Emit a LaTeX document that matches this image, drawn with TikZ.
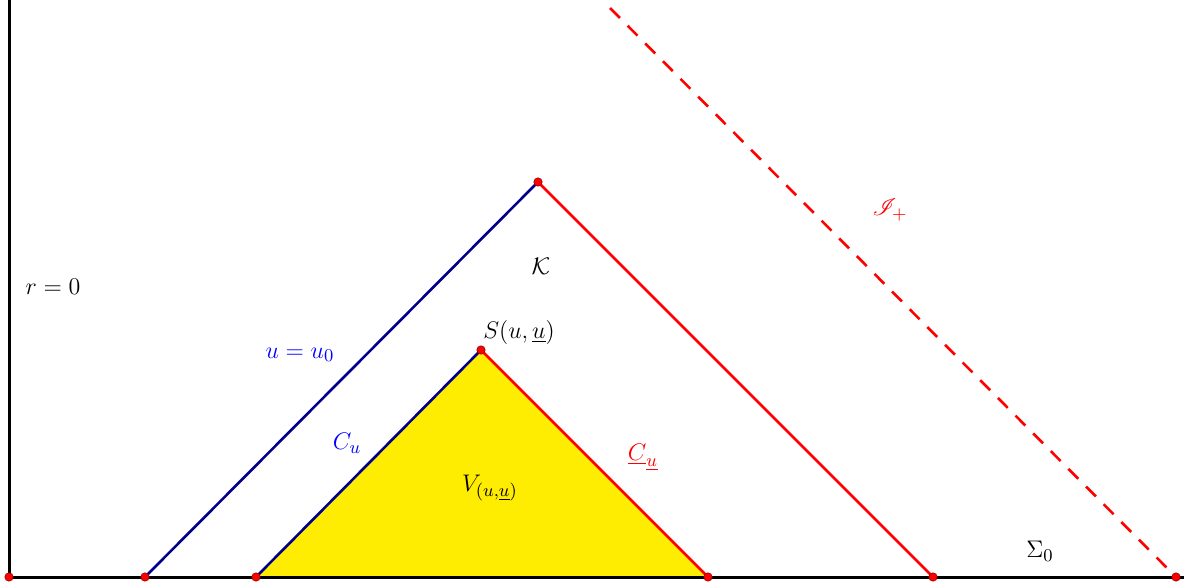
\documentclass[tikz,border=0pt]{standalone}
\usepackage{amsmath,amssymb}
\usepackage{mathrsfs}
\usetikzlibrary{backgrounds}
\begin{document}
\begin{tikzpicture}[x=0.5pt,y=-0.5pt,
  pt/.style={circle,fill=red,draw=red!60!black,line width=0.3pt,inner sep=0pt,minimum size=4.2pt},
  lbl/.style={font=\fontsize{12.4}{14}\selectfont},
  bluel/.style={draw=blue!55!black,line width=1.3pt},
  redl/.style={draw=red,line width=1.3pt},
  axis/.style={draw=black,line width=1.5pt}]
\useasboundingbox (0,0) rectangle (1194,588);
\coordinate (top) at (9,0);
\coordinate (xend) at (1184,577);
\coordinate (dtop) at (610,8);
\node[pt] (o) at (9,577) {};
\node[pt] (a) at (145,577) {};
\node[pt] (b) at (256,577) {};
\node[pt] (c) at (708,577) {};
\node[pt] (d) at (933,577) {};
\node[pt] (e) at (1176,577) {};
\node[pt] (K) at (538,182) {};
\node[pt] (S) at (481,350) {};
\begin{scope}[on background layer]
\fill[yellow!95!orange] (b.center) -- (S.center) -- (c.center) -- cycle;
\draw[axis] (top) -- (o.center) -- (xend);
\draw[bluel] (a.center) -- (K.center);
\draw[redl] (K.center) -- (d.center);
\draw[bluel] (b.center) -- (S.center);
\draw[redl] (S.center) -- (c.center);
\draw[redl,dash pattern=on 7pt off 5.5pt] (dtop) -- (e.center);
\end{scope}
% labels
\node[lbl] (r0) at (53,287) {$r=0$};
\node[lbl,text=blue] (uu0) at (300,355) {$u=u_0$};
\node[lbl,text=blue] (Cu) at (347,443) {$C_u$};
\node[lbl] (Slab) at (519,332) {$S(u,\underline{u})$};
\node[lbl] (Klab) at (541,266) {$\mathcal{K}$};
\node[lbl,text=red] (scri) at (890,210) {$\mathscr{I}_+$};
\node[lbl,text=red] (Cub) at (643,457) {$\underline{C}_{\underline{u}}$};
\node[lbl] (V) at (490,488) {$V_{(u,\underline{u})}$};
\node[lbl] (Sig) at (1040,551) {$\Sigma_0$};
\end{tikzpicture}
\end{document}
